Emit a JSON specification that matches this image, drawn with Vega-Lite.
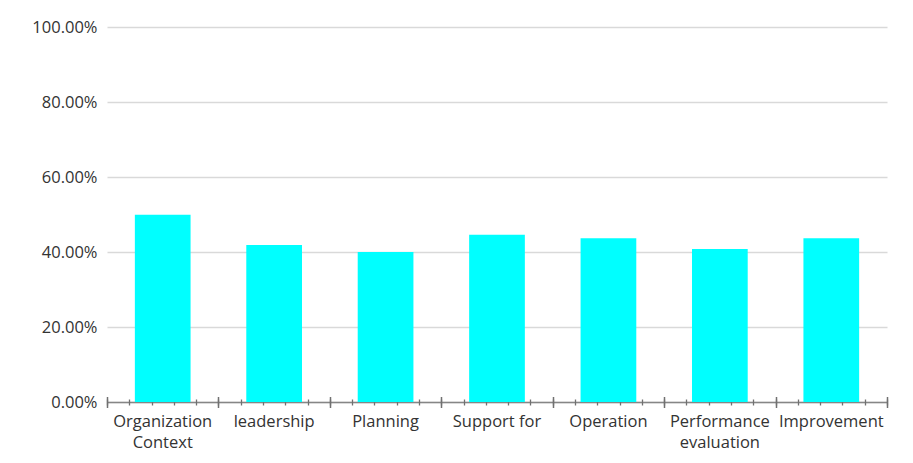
{
  "$schema": "https://vega.github.io/schema/vega-lite/v6.json",
  "autosize": {"type": "none"},
  "width": 780,
  "height": 375,
  "padding": {"left": 107, "top": 27, "right": 26, "bottom": 61},
  "background": "white",
  "config": {
    "view": {"stroke": null},
    "font": "Open Sans",
    "axis": {"labelFont": "Open Sans", "labelColor": "#333333", "labelFontSize": 16.5}
  },
  "datasets": {
    "scores": [
      {"category": "Organization Context", "value": 0.4995},
      {"category": "leadership", "value": 0.419},
      {"category": "Planning", "value": 0.40},
      {"category": "Support for", "value": 0.446},
      {"category": "Operation", "value": 0.437},
      {"category": "Performance evaluation", "value": 0.408},
      {"category": "Improvement", "value": 0.437}
    ],
    "anchor": [{"t": 0}]
  },
  "layer": [
    {
      "data": {"name": "scores"},
      "mark": {"type": "bar", "color": "#00FFFF"},
      "encoding": {
        "x": {
          "field": "category",
          "type": "nominal",
          "sort": null,
          "scale": {"paddingInner": 0.5, "paddingOuter": 0.25},
          "axis": {
            "title": null,
            "labelAngle": 0,
            "ticks": false,
            "domain": true,
            "domainColor": "#868686",
            "domainWidth": 1.5,
            "labelPadding": 11,
            "labelLineHeight": 21,
            "labelBaseline": "top",
            "labelExpr": "datum.value == 'Organization Context' ? ['Organization','Context'] : datum.value == 'Performance evaluation' ? ['Performance','evaluation'] : datum.value"
          }
        },
        "y": {
          "field": "value",
          "type": "quantitative",
          "scale": {"domain": [0, 1], "nice": false},
          "axis": {
            "title": null,
            "format": ".2%",
            "values": [0, 0.2, 0.4, 0.6, 0.8, 1],
            "domain": false,
            "ticks": false,
            "grid": true,
            "gridColor": "#d9d9d9",
            "gridWidth": 1.5,
            "labelPadding": 10
          }
        }
      }
    },
    {
      "data": {"name": "anchor"},
      "mark": {"type": "point", "opacity": 0},
      "encoding": {
        "x": {
          "field": "t",
          "type": "quantitative",
          "scale": {"domain": [0, 35], "nice": false, "zero": true},
          "axis": {
            "orient": "bottom",
            "title": null,
            "values": [0,1,2,3,4,5,6,7,8,9,10,11,12,13,14,15,16,17,18,19,20,21,22,23,24,25,26,27,28,29,30,31,32,33,34,35],
            "labels": false,
            "domain": false,
            "grid": false,
            "tickSize": 6,
            "tickColor": "#707070",
            "tickWidth": 1.3,
            "offset": -3
          }
        }
      }
    },
    {
      "data": {"name": "anchor"},
      "mark": {"type": "point", "opacity": 0},
      "encoding": {
        "x": {
          "field": "t",
          "type": "quantitative",
          "scale": {"domain": [0, 7], "nice": false, "zero": true},
          "axis": {
            "orient": "bottom",
            "title": null,
            "values": [0,1,2,3,4,5,6,7],
            "labels": false,
            "domain": false,
            "grid": false,
            "tickSize": 11,
            "tickColor": "#707070",
            "tickWidth": 1.5,
            "offset": -5.5
          }
        }
      }
    }
  ],
  "resolve": {"scale": {"x": "independent"}, "axis": {"x": "independent"}}
}
